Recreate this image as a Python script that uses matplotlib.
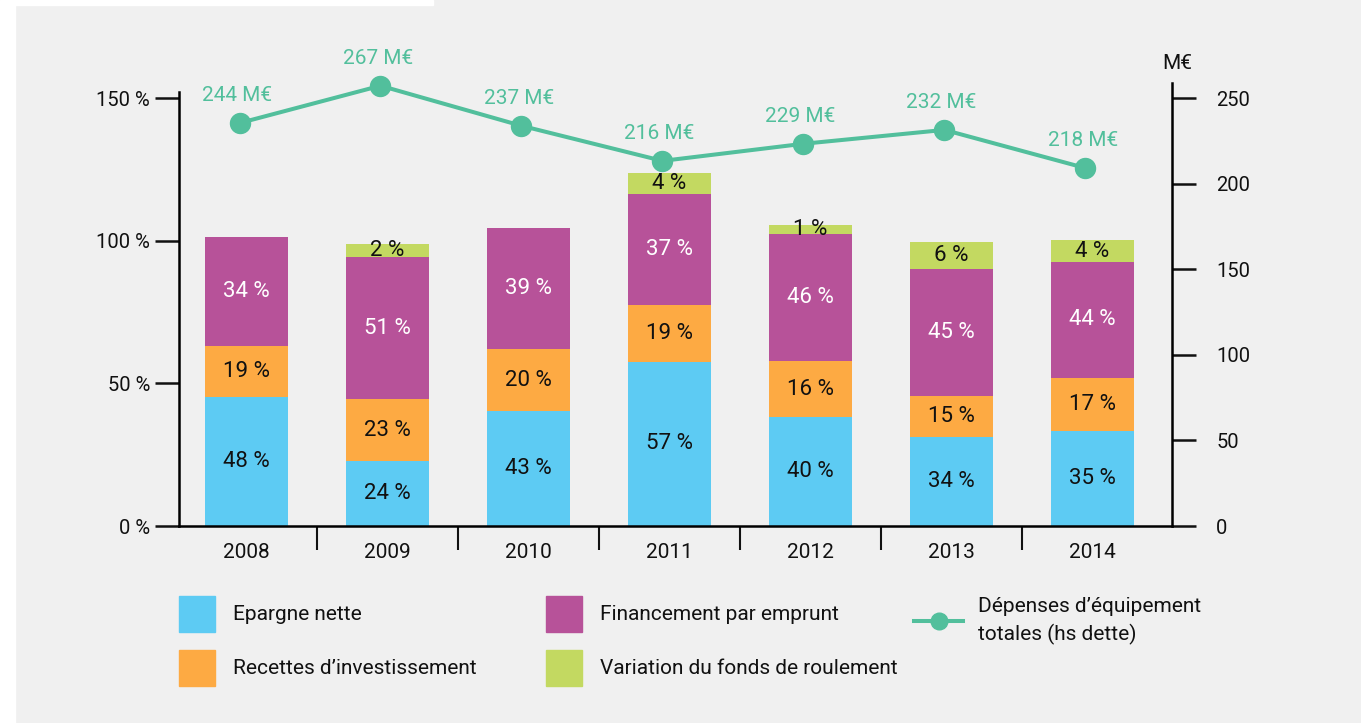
import matplotlib
matplotlib.use('Agg')
import matplotlib.pyplot as plt
from matplotlib.patches import Rectangle, Patch
from matplotlib.lines import Line2D
import numpy as np

# données (hauteurs dessinées) + étiquettes affichées
years = ['2008', '2009', '2010', '2011', '2012', '2013', '2014']
epargne = [45.2, 22.8, 40.3, 57.6, 38.2, 31.2, 33.3]
recettes = [17.9, 21.7, 21.7, 19.9, 19.6, 14.4, 18.7]
emprunt = [38.2, 49.8, 42.5, 39.0, 44.5, 44.5, 40.5]
fdr = [0, 4.5, 0, 7.2, 3.2, 9.4, 7.7]
epargne_lbl = [48, 24, 43, 57, 40, 34, 35]
recettes_lbl = [19, 23, 20, 19, 16, 15, 17]
emprunt_lbl = [34, 51, 39, 37, 46, 45, 44]
fdr_lbl = [None, 2, None, 4, 1, 6, 4]
depenses = [235.4, 257.2, 233.8, 213.3, 223.3, 231.4, 209.1]
depenses_lbl = [244, 267, 237, 216, 229, 232, 218]

BLUE = '#5dcbf3'
ORANGE = '#fdaa43'
PURPLE = '#b75299'
GREEN = '#c3d961'
TEAL = '#52bf9c'
BG = '#f0f0f0'
INK = '#111111'

plt.rcParams['font.family'] = ['Roboto', 'DejaVu Sans']

W, H = 1361, 723
fig = plt.figure(figsize=(W / 100, H / 100), dpi=100, facecolor=BG)
# bandes blanches du cadre
fig.add_artist(Rectangle((0, 0), 15 / W, 1, transform=fig.transFigure, color='white', zorder=-5))
fig.add_artist(Rectangle((0, 1 - 5 / H), 433 / W, 5 / H, transform=fig.transFigure, color='white', zorder=-5))

ax = fig.add_axes([179.3 / W, 197 / H, (1171.7 - 179.3) / W, 443 / H])
ax.set_facecolor('none')

x = np.arange(len(years))
bottom = np.zeros(len(years))
series = [
    (epargne, epargne_lbl, BLUE, 'Epargne nette', INK),
    (recettes, recettes_lbl, ORANGE, 'Recettes d’investissement', INK),
    (emprunt, emprunt_lbl, PURPLE, 'Financement par emprunt', 'white'),
    (fdr, fdr_lbl, GREEN, 'Variation du fonds de roulement', INK),
]
for vals, lbls, col, name, tc in series:
    ax.bar(x, vals, 0.589, bottom=bottom, color=col, label=name)
    for xi, b, v, l in zip(x, bottom, vals, lbls):
        if l is not None:
            ax.text(xi, b + v / 2, f'{l} %', ha='center', va='center', color=tc, fontsize=16)
    bottom = bottom + np.array(vals)

ax.set_xlim(-0.477, 6.562)
ax.set_ylim(0, 155.3)
ax.set_yticks([0, 50, 100, 150])
ax.set_yticklabels(['0 %', '50 %', '100 %', '150 %'])
ax.set_xticks(x)
ax.set_xticklabels(years)
ax.set_xticks(x[:-1] + 0.5, minor=True)
ax.tick_params(axis='y', length=17, width=1.8, pad=4, labelsize=14.5, colors=INK)
ax.tick_params(axis='x', which='major', length=0, pad=12, labelsize=15, colors=INK)
ax.tick_params(axis='x', which='minor', length=17, width=1.5, direction='out', color=INK)
for s in ['top', 'right']:
    ax.spines[s].set_visible(False)
ax.spines['left'].set_linewidth(1.8)
ax.spines['bottom'].set_linewidth(1.8)
ax.spines['left'].set_bounds(0, 152.1)

ax2 = ax.twinx()
ax2.set_ylim(0, 258.8)
ax2.set_yticks([0, 50, 100, 150, 200, 250])
ax2.tick_params(axis='y', length=17, width=1.8, pad=15, labelsize=14.5, colors=INK)
for s in ['top', 'left', 'bottom']:
    ax2.spines[s].set_visible(False)
ax2.spines['right'].set_linewidth(1.8)

ax2.plot(x - 0.05, depenses, color=TEAL, lw=2.9, marker='o', ms=14.4, zorder=5, clip_on=False)
for xi, v, l in zip(x, depenses, depenses_lbl):
    ax2.annotate(f'{l} M€', (xi - 0.05, v), xytext=(-2, 19.5), textcoords='offset points',
                 ha='center', va='center', color=TEAL, fontsize=15)
ax2.annotate('M€', xy=(1, 1), xycoords='axes fraction', xytext=(4, 14), textcoords='offset points',
             ha='center', va='center', fontsize=15, color=INK)

# légendes (trois blocs)
h = [Patch(color=c, label=n) for _, _, c, n, _ in series]
opts = dict(loc='upper left', frameon=False, fontsize=15, borderpad=0, borderaxespad=0,
            labelcolor=INK)
sq = dict(handlelength=1.73, handleheight=2.286, handletextpad=0.87, labelspacing=0.86)
fig.legend(handles=h[:2], bbox_to_anchor=(179 / W, 1 - 596 / H), **sq, **opts)
fig.legend(handles=h[2:], bbox_to_anchor=(546 / W, 1 - 596 / H), **sq, **opts)
line_h = Line2D([], [], color=TEAL, lw=2.9, marker='o', ms=12,
                label='Dépenses d’équipement\ntotales (hs dette)')
leg3 = fig.legend(handles=[line_h], bbox_to_anchor=(914 / W, 1 - 597 / H), handlelength=2.36,
                  handletextpad=0.72, **opts)
leg3.get_texts()[0].set_linespacing(1.5)

fig.savefig('out.png', dpi=100, facecolor=fig.get_facecolor())
